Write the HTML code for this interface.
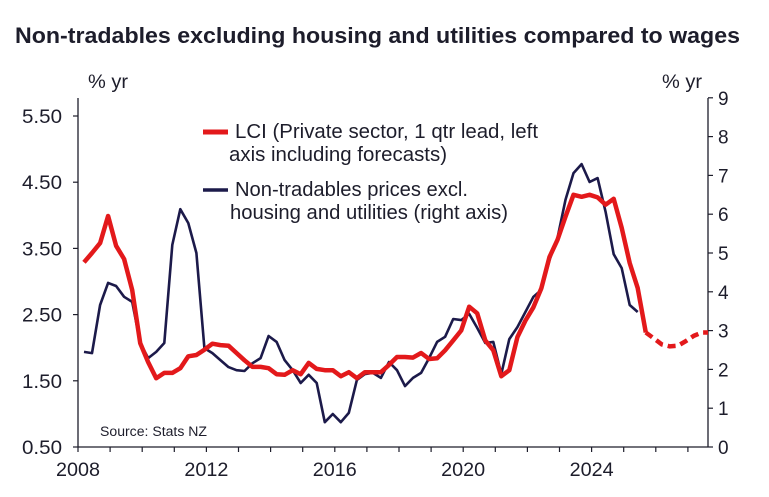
<!DOCTYPE html>
<html><head><meta charset="utf-8"><style>
body{margin:0;background:#fff;}
svg{display:block;font-family:"Liberation Sans",Arial,sans-serif;}
</style></head><body>
<svg width="769" height="497" viewBox="0 0 769 497">
<text x="15" y="43" font-size="22" font-weight="bold" fill="#1d1d2b" textLength="725" lengthAdjust="spacingAndGlyphs">Non-tradables excluding housing and utilities compared to wages</text>
<text x="88" y="88" font-size="19" fill="#1d1d2b" textLength="40" lengthAdjust="spacingAndGlyphs">% yr</text>
<text x="662" y="88" font-size="19" fill="#1d1d2b" textLength="40" lengthAdjust="spacingAndGlyphs">% yr</text>
<g id="axes"></g>
<g id="series"></g>
<g>
<line x1="203" y1="132" x2="228" y2="132" stroke="#e3191b" stroke-width="5"/>
<text x="235" y="138" font-size="20" fill="#1d1d2b" textLength="303" lengthAdjust="spacingAndGlyphs">LCI (Private sector, 1 qtr lead, left</text>
<text x="229" y="161" font-size="20" fill="#1d1d2b" textLength="218" lengthAdjust="spacingAndGlyphs">axis including forecasts)</text>
<line x1="203" y1="190" x2="228" y2="190" stroke="#1c1a4a" stroke-width="3.5"/>
<text x="235" y="196" font-size="20" fill="#1d1d2b" textLength="233" lengthAdjust="spacingAndGlyphs">Non-tradables prices excl.</text>
<text x="230" y="219" font-size="20" fill="#1d1d2b" textLength="278" lengthAdjust="spacingAndGlyphs">housing and utilities (right axis)</text>
</g>
<text x="100" y="436" font-size="13.5" fill="#1d1d2b" textLength="107" lengthAdjust="spacingAndGlyphs">Source: Stats NZ</text>
</svg>
<script>
const startYear = 2008.1875;
const lciValues = [3.29,3.43,3.58,3.99,3.54,3.34,2.87,2.07,1.78,1.54,1.62,1.62,1.69,1.87,1.89,1.97,2.06,2.04,2.03,1.92,1.81,1.71,1.71,1.69,1.60,1.59,1.66,1.60,1.77,1.68,1.66,1.66,1.57,1.63,1.54,1.63,1.63,1.63,1.74,1.86,1.86,1.85,1.92,1.83,1.84,1.96,2.11,2.26,2.62,2.52,2.11,1.96,1.57,1.66,2.16,2.41,2.61,2.90,3.37,3.63,3.98,4.31,4.28,4.31,4.27,4.16,4.25,3.81,3.28,2.90,2.23];
const lciForecast = [2.23,2.14,2.05,2.02,2.03,2.10,2.18,2.23,2.23];
const ntValues = [2.45,2.42,3.66,4.23,4.15,3.87,3.74,2.68,2.29,2.45,2.68,5.21,6.13,5.77,5.00,2.55,2.42,2.24,2.06,1.98,1.96,2.16,2.29,2.86,2.71,2.24,1.98,1.65,1.86,1.65,0.64,0.85,0.64,0.88,1.73,1.88,1.91,1.78,2.19,1.98,1.57,1.78,1.91,2.29,2.71,2.84,3.30,3.27,3.43,3.07,2.68,2.71,1.88,2.78,3.09,3.48,3.87,4.05,4.82,5.39,6.37,7.06,7.29,6.83,6.93,6.06,4.97,4.61,3.66,3.48];
const leftTicks = [0.5,1.5,2.5,3.5,4.5,5.5];
const rightTicks = [0,1,2,3,4,5,6,7,8,9];
const yearLabels = [2008,2012,2016,2020,2024];

const X0=78, PX_PER_YEAR=32.1, XMAX=708, YB=447;
const xYear = y => X0 + (y-2008)*PX_PER_YEAR;
const xIdx = i => xYear(startYear + i*0.25);
const yL = v => YB - (v-0.5)*66.2;
const yR = v => YB - v*38.8;
const NS="http://www.w3.org/2000/svg";
function mk(tag, attrs, parent){const e=document.createElementNS(NS,tag);for(const k in attrs)e.setAttribute(k,attrs[k]);parent.appendChild(e);return e;}
const ax=document.getElementById('axes'), se=document.getElementById('series');
const ink="#1d1d2b";
let e;
e=mk('line',{x1:X0,y1:98,x2:X0,y2:YB,stroke:ink,'stroke-width':1.3},ax);


e=mk('line',{x1:XMAX,y1:98,x2:XMAX,y2:YB,stroke:ink,'stroke-width':1.3},ax);


e=mk('line',{x1:X0,y1:YB,x2:XMAX,y2:YB,stroke:ink,'stroke-width':1.3},ax);


leftTicks.forEach(v=>{
  mk('line',{x1:X0-5,y1:yL(v),x2:X0,y2:yL(v),stroke:ink,'stroke-width':1.2},ax);
  const t=mk('text',{x:62,y:yL(v)+7,'font-size':19,'text-anchor':'end',fill:ink,textLength:40,lengthAdjust:'spacingAndGlyphs'},ax);
  t.textContent=v.toFixed(2);
  
  
});
rightTicks.forEach(v=>{
  mk('line',{x1:XMAX,y1:yR(v),x2:XMAX+5,y2:yR(v),stroke:ink,'stroke-width':1.2},ax);
  const t=mk('text',{x:718,y:yR(v)+7,'font-size':19,fill:ink},ax);
  t.textContent=v;
  
  
});
for(let y=2008;y<=2027;y++){
  mk('line',{x1:xYear(y),y1:YB,x2:xYear(y),y2:YB+5,stroke:ink,'stroke-width':1.2},ax);
}
yearLabels.forEach(y=>{
  const t=mk('text',{x:xYear(y),y:476,'font-size':19,'text-anchor':'middle',fill:ink,textLength:44,lengthAdjust:'spacingAndGlyphs'},ax);
  t.textContent=y;
  
  
});
const ntPts=ntValues.map((v,i)=>xIdx(i).toFixed(1)+','+yR(v).toFixed(1)).join(' ');
e=mk('polyline',{points:ntPts,fill:'none',stroke:'#1c1a4a','stroke-width':2.6,'stroke-linejoin':'round'},se);


const lciPts=lciValues.map((v,i)=>xIdx(i).toFixed(1)+','+yL(v).toFixed(1)).join(' ');
e=mk('polyline',{points:lciPts,fill:'none',stroke:'#e3191b','stroke-width':4.5,'stroke-linejoin':'round'},se);


const off=lciValues.length-1;
const fPts=lciForecast.map((v,i)=>Math.min(XMAX,xIdx(off+i)).toFixed(1)+','+yL(v).toFixed(1)).join(' ');
e=mk('polyline',{points:fPts,fill:'none',stroke:'#e3191b','stroke-width':4.5,'stroke-dasharray':'8,5'},se);


</script>
</body></html>
